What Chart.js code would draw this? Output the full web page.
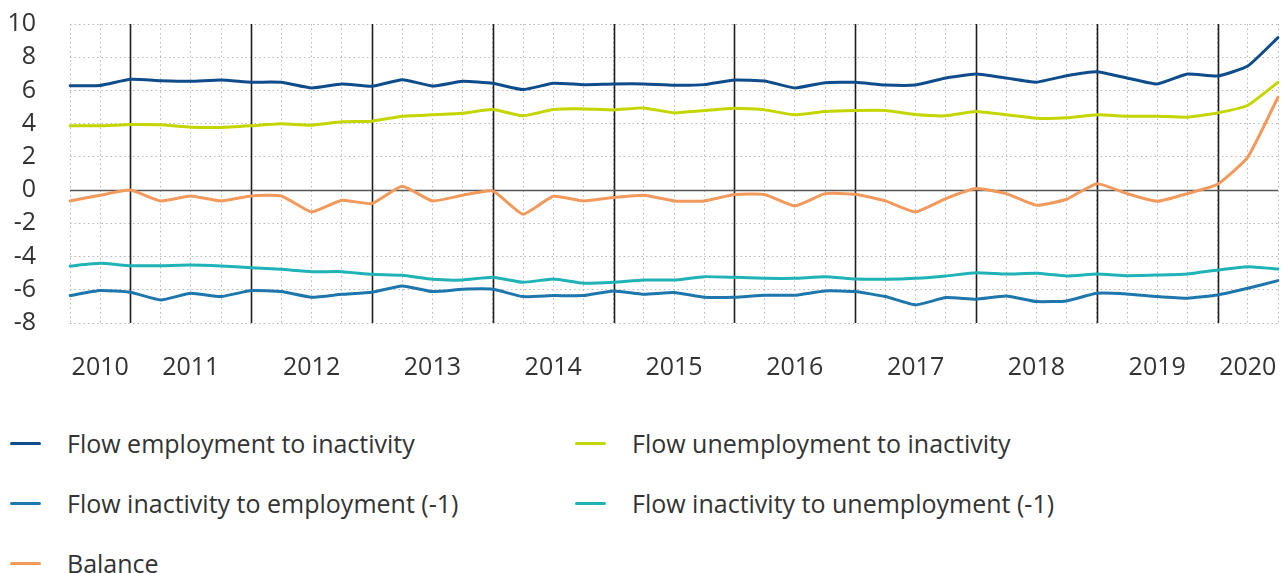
<!DOCTYPE html>
<html>
<head>
<meta charset="utf-8">
<script src="https://cdn.jsdelivr.net/npm/chart.js@4/dist/chart.umd.min.js"></script>
<style>
  html, body { margin: 0; padding: 0; background: #fff; }
  body { width: 1285px; height: 573px; position: relative; overflow: hidden;
         font-family: "Open Sans", sans-serif; color: #333; }
  #wrap { position: absolute; left: 0; top: 0; width: 1285px; height: 395px; }
  .legend { position: absolute; left: 0; top: 420px; width: 1285px; }
  .item { position: absolute; font-size: 25px; line-height: 32px; white-space: nowrap; }
  .item i { position: absolute; left: -57px; top: 15px; width: 31px; height: 3px; border-radius: 2px; }
</style>
</head>
<body>
<div id="wrap"><canvas id="chart"></canvas></div>
<div class="legend" id="legend"></div>

<script>
/* ── Data (quarterly, % of population) ───────────────────── */

var quarters = [
  '2010Q3','2010Q4',
  '2011Q1','2011Q2','2011Q3','2011Q4',
  '2012Q1','2012Q2','2012Q3','2012Q4',
  '2013Q1','2013Q2','2013Q3','2013Q4',
  '2014Q1','2014Q2','2014Q3','2014Q4',
  '2015Q1','2015Q2','2015Q3','2015Q4',
  '2016Q1','2016Q2','2016Q3','2016Q4',
  '2017Q1','2017Q2','2017Q3','2017Q4',
  '2018Q1','2018Q2','2018Q3','2018Q4',
  '2019Q1','2019Q2','2019Q3','2019Q4',
  '2020Q1','2020Q2','2020Q3'
];

/* quarters that carry the year label */
var yearTickQuarters = ['2010Q4','2011Q3','2012Q3','2013Q3','2014Q3','2015Q3',
                        '2016Q3','2017Q3','2018Q3','2019Q3','2020Q2'];

var empToInact = [6.29, 6.30, 6.67, 6.59, 6.55, 6.63, 6.50, 6.49, 6.15, 6.39,
                  6.25, 6.65, 6.27, 6.55, 6.43, 6.05, 6.43, 6.35, 6.39, 6.39,
                  6.31, 6.35, 6.63, 6.57, 6.15, 6.47, 6.49, 6.33, 6.33, 6.75,
                  6.99, 6.75, 6.50, 6.89, 7.13, 6.75, 6.39, 6.99, 6.87, 7.47, 9.18];

var unempToInact = [3.87, 3.87, 3.95, 3.93, 3.79, 3.77, 3.87, 3.99, 3.91, 4.11,
                    4.15, 4.45, 4.53, 4.63, 4.85, 4.47, 4.85, 4.89, 4.83, 4.95,
                    4.65, 4.79, 4.93, 4.83, 4.53, 4.73, 4.79, 4.79, 4.55, 4.47,
                    4.73, 4.53, 4.33, 4.35, 4.53, 4.45, 4.45, 4.39, 4.65, 5.11, 6.49];

var inactToEmp = [-6.35, -6.05, -6.15, -6.61, -6.21, -6.41, -6.05, -6.11, -6.45, -6.27,
                  -6.15, -5.77, -6.11, -5.97, -5.97, -6.41, -6.35, -6.35, -6.07, -6.27,
                  -6.17, -6.45, -6.45, -6.33, -6.33, -6.07, -6.11, -6.41, -6.91, -6.47,
                  -6.57, -6.37, -6.71, -6.67, -6.21, -6.25, -6.41, -6.51, -6.31, -5.91, -5.45];

var inactToUnemp = [-4.57, -4.41, -4.55, -4.55, -4.51, -4.57, -4.67, -4.77, -4.91, -4.91,
                    -5.07, -5.13, -5.37, -5.41, -5.25, -5.55, -5.35, -5.61, -5.55, -5.41,
                    -5.41, -5.21, -5.25, -5.31, -5.31, -5.21, -5.35, -5.37, -5.31, -5.17,
                    -4.97, -5.05, -5.01, -5.17, -5.05, -5.15, -5.11, -5.05, -4.81, -4.61, -4.75];

var balance = [-0.65, -0.31, 0.00, -0.65, -0.35, -0.65, -0.35, -0.35, -1.31, -0.61,
               -0.81, 0.23, -0.65, -0.31, -0.05, -1.45, -0.37, -0.65, -0.45, -0.31,
               -0.65, -0.65, -0.27, -0.27, -0.95, -0.21, -0.25, -0.65, -1.31, -0.51,
               0.09, -0.21, -0.91, -0.55, 0.39, -0.21, -0.67, -0.21, 0.35, 1.99, 5.59];

var seriesNames = [
  'Flow employment to inactivity',
  'Flow unemployment to inactivity',
  'Flow inactivity to employment (-1)',
  'Flow inactivity to unemployment (-1)',
  'Balance'
];

/* ── Styling ─────────────────────────────────────────────── */

var colors = ['#0f4c8c', '#c4d600', '#1d77ad', '#1fb3b8', '#f2995c'];
var tickFont = { family: '"Open Sans", sans-serif', size: 25 };
var gridColor = '#b8b8b8';

/* solid year separators and zero line */
var refLines = {
  id: 'refLines',
  beforeDatasetsDraw: function (chart) {
    var ctx = chart.ctx, area = chart.chartArea;
    var xs = chart.scales.x, ys = chart.scales.y;
    ctx.save();
    ctx.lineWidth = 1.6;
    ctx.strokeStyle = '#1e1e1e';
    quarters.forEach(function (q, i) {
      if (q.slice(4) !== 'Q1') return;
      var x = Math.round(xs.getPixelForValue(i)) + 0.5;
      ctx.beginPath();
      ctx.moveTo(x, area.top);
      ctx.lineTo(x, area.bottom);
      ctx.stroke();
    });
    var y0 = Math.round(ys.getPixelForValue(0)) + 0.5;
    ctx.strokeStyle = '#555';
    ctx.beginPath();
    ctx.moveTo(area.left, y0);
    ctx.lineTo(area.right, y0);
    ctx.stroke();
    ctx.restore();
  }
};

/* ── Chart ───────────────────────────────────────────────── */

var seriesData = [empToInact, unempToInact, inactToEmp, inactToUnemp, balance];

new Chart(document.getElementById('chart'), {
  type: 'line',
  data: {
    labels: quarters,
    datasets: seriesData.map(function (d, k) {
      return {
        label: seriesNames[k],
        data: d,
        borderColor: colors[k],
        backgroundColor: colors[k],
        borderWidth: 3,
        pointRadius: 0,
        tension: 0.15,
        borderJoinStyle: 'round',
        borderCapStyle: 'round',
        order: 5 - k
      };
    })
  },
  options: {
    responsive: true,
    maintainAspectRatio: false,
    animation: false,
    layout: { padding: { top: 24, right: 7, left: 0, bottom: 0 } },
    plugins: { legend: { display: false }, tooltip: { enabled: false } },
    scales: {
      x: {
        type: 'category',
        offset: false,
        grid: { color: gridColor, lineWidth: 1, drawTicks: false },
        border: { display: false, dash: [1.5, 3] },
        afterFit: function (s) {
          s.height = 72;
          s.paddingLeft = 0;
          s.paddingRight = 0;
        },
        ticks: {
          color: '#333',
          font: tickFont,
          padding: 30,
          autoSkip: false,
          maxRotation: 0,
          callback: function (v, i) {
            var q = quarters[i];
            return yearTickQuarters.indexOf(q) >= 0 ? q.slice(0, 4) : '';
          }
        }
      },
      y: {
        min: -8,
        max: 10,
        afterFit: function (s) {
          s.width = 70;
          s.paddingTop = 0;
          s.paddingBottom = 0;
        },
        grid: { color: gridColor, lineWidth: 1, drawTicks: false },
        border: { display: false, dash: [1.5, 3] },
        ticks: {
          stepSize: 2,
          color: '#333',
          font: tickFont,
          padding: 34
        }
      }
    }
  },
  plugins: [refLines]
});

/* ── Legend (two columns) ────────────────────────────────── */

var legendSpots = [[67, 7], [632, 7], [67, 67], [632, 67], [67, 127]];
var legend = document.getElementById('legend');
seriesNames.forEach(function (name, k) {
  var el = document.createElement('div');
  el.className = 'item';
  el.style.left = legendSpots[k][0] + 'px';
  el.style.top = legendSpots[k][1] + 'px';
  el.innerHTML = '<i style="background:' + colors[k] + '"></i>' + name;
  legend.appendChild(el);
});
</script>
</body>
</html>
